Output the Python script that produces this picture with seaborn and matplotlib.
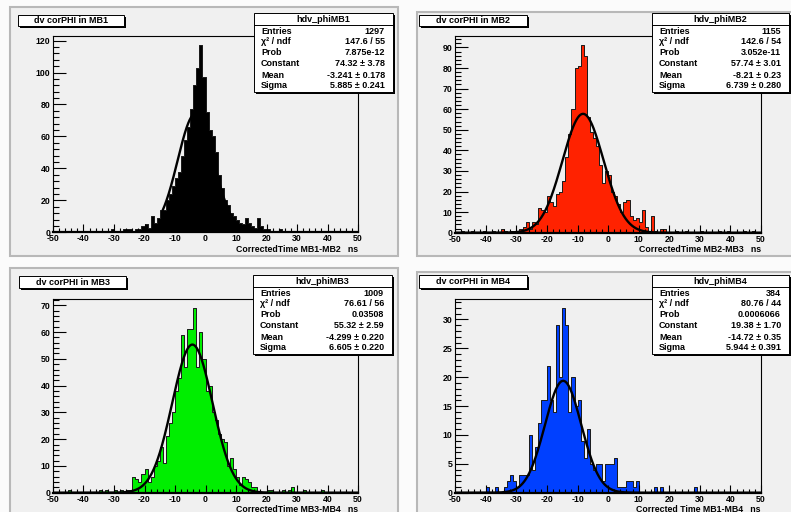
import numpy as np
import matplotlib
matplotlib.use("Agg")
import matplotlib.pyplot as plt
from matplotlib.patches import Rectangle
from matplotlib.lines import Line2D
import seaborn as sns

# ---------------- data (bins of 1 ns from -50 to 50) ----------------
bin_edges = list(range(-50, 51))

counts_mb1 = [
    0, 0, 1, 0, 0, 1, 0, 1, 0, 0,        # -50 .. -41
    1, 0, 0, 1, 0, 0, 1, 1, 0, 2,        # -40 .. -31
    0, 1, 0, 2, 2, 2, 1, 2, 2, 4,        # -30 .. -21
    5, 3, 10, 6, 9, 14, 14, 20, 24, 29,  # -20 .. -11
    34, 38, 48, 58, 66, 77, 92, 103, 117, 97,  # -10 .. -1
    75, 64, 60, 50, 36, 28, 20, 17, 12, 10,    # 0 .. 9
    8, 6, 5, 9, 6, 4, 3, 9, 4, 2,        # 10 .. 19
    2, 1, 1, 0, 2, 1, 0, 1, 0, 1,        # 20 .. 29
    0, 1, 0, 0, 1, 0, 0, 1, 0, 0,        # 30 .. 39
    1, 0, 0, 0, 1, 0, 0, 1, 0, 0,        # 40 .. 49
]
counts_mb2 = [
    0, 0, 1, 0, 0, 1, 0, 0, 0, 1,        # -50 .. -41
    0, 0, 1, 0, 0, 2, 1, 0, 1, 0,        # -40 .. -31
    1, 2, 3, 5, 2, 5, 4, 12, 11, 10,     # -30 .. -21
    18, 15, 13, 19, 20, 25, 37, 48, 60, 80,    # -20 .. -11
    81, 91, 86, 56, 49, 46, 42, 33, 24, 30,    # -10 .. -1
    28, 20, 18, 14, 10, 15, 16, 8, 6, 7,       # 0 .. 9
    5, 11, 3, 0, 8, 1, 0, 2, 2, 0,       # 10 .. 19
    0, 0, 1, 0, 0, 1, 0, 0, 0, 0,        # 20 .. 29
    1, 0, 0, 0, 0, 0, 1, 0, 0, 1,        # 30 .. 39
    0, 0, 0, 0, 1, 0, 0, 1, 0, 0,        # 40 .. 49
]
counts_mb3 = [
    0, 0, 0, 0, 0, 1, 0, 0, 0, 0,        # -50 .. -41
    0, 0, 0, 0, 0, 1, 0, 1, 0, 0,        # -40 .. -31
    1, 0, 1, 0, 1, 1, 6, 5, 4, 7,        # -30 .. -21
    9, 4, 6, 10, 12, 17, 11, 21, 26, 30,       # -20 .. -11
    38, 43, 59, 47, 61, 61, 69, 47, 60, 50,    # -10 .. -1
    38, 40, 30, 27, 22, 20, 19, 10, 13, 9,     # 0 .. 9
    6, 3, 6, 5, 4, 2, 2, 0, 0, 0,        # 10 .. 19
    1, 1, 0, 0, 0, 1, 0, 1, 2, 0,        # 20 .. 29
    0, 0, 1, 0, 0, 0, 0, 0, 1, 0,        # 30 .. 39
    0, 0, 0, 0, 0, 0, 0, 0, 0, 0,        # 40 .. 49
]
counts_mb4 = [
    0, 0, 0, 0, 0, 0, 0, 0, 0, 0,        # -50 .. -41
    1, 0, 0, 1, 0, 0, 1, 2, 3, 2,        # -40 .. -31
    1, 3, 3, 3, 10, 4, 8, 12, 16, 16,    # -30 .. -21
    22, 16, 14, 29, 20, 32, 29, 14, 20, 15,    # -20 .. -11
    16, 9, 6, 11, 5, 4, 5, 5, 2, 5,      # -10 .. -1
    5, 5, 6, 1, 1, 1, 2, 2, 1, 2,        # 0 .. 9
    0, 0, 0, 0, 0, 1, 0, 1, 0, 0,        # 10 .. 19
    0, 0, 0, 0, 0, 0, 0, 0, 1, 0,        # 20 .. 29
    0, 0, 0, 0, 0, 0, 0, 0, 0, 0,        # 30 .. 39
    0, 0, 0, 0, 0, 0, 0, 0, 0, 0,        # 40 .. 49
]

hist_names = ["hdv_phiMB1", "hdv_phiMB2", "hdv_phiMB3", "hdv_phiMB4"]
pad_titles = ["dv corPHI in MB1", "dv corPHI in MB2", "dv corPHI in MB3", "dv corPHI in MB4"]
x_titles = ["CorrectedTime MB1-MB2   ns", "CorrectedTime MB2-MB3   ns",
            "CorrectedTime MB3-MB4   ns", "Corrected Time MB1-MB4   ns"]
entries = ["1297", "1155", "1009", "384"]
chi2_ndf = ["147.6 / 55", "142.6 / 54", "76.61 / 56", "80.76 / 44"]
prob = ["7.875e-12", "3.052e-11", "0.03508", "0.0006066"]
const_txt = ["74.32 \u00b1 3.78", "57.74 \u00b1 3.01", "55.32 \u00b1 2.59", "19.38 \u00b1 1.70"]
mean_txt = ["-3.241 \u00b1 0.178", "-8.21 \u00b1 0.23", "-4.299 \u00b1 0.220", "-14.72 \u00b1 0.35"]
sigma_txt = ["5.885 \u00b1 0.241", "6.739 \u00b1 0.280", "6.605 \u00b1 0.220", "5.944 \u00b1 0.391"]
fit_const = [74.32, 57.74, 55.32, 19.38]
fit_mean = [-3.241, -8.21, -4.299, -14.72]
fit_sigma = [5.885, 6.739, 6.605, 5.944]
fit_range = [(-14.0, 8.0), (-50.0, 50.0), (-50.0, 50.0), (-50.0, 50.0)]
fill_colors = ["#000000", "#ff2200", "#00ee00", "#0040ff"]
y_major = [20, 10, 10, 5]
y_minor = [4, 2, 2, 1]

all_counts = [counts_mb1, counts_mb2, counts_mb3, counts_mb4]

# ---------------- layout ----------------
W, H = 791, 512
plt.rcParams["font.family"] = ["Liberation Sans", "DejaVu Sans"]
plt.rcParams["font.weight"] = "bold"
plt.rcParams["axes.unicode_minus"] = False
fig = plt.figure(figsize=(W / 100, H / 100), dpi=100, facecolor="#fbfbfb")


def fx(x):
    return x / W


def fy(y):
    return 1 - y / H


def rect(x0, y0, x1, y1, **kw):
    r = Rectangle((fx(x0), fy(y1)), (x1 - x0) / W, (y1 - y0) / H,
                  transform=fig.transFigure, **kw)
    fig.patches.append(r)
    return r


pads = [(10, 7, 398, 256), (417, 12, 795, 256), (10, 268, 398, 516), (417, 272, 795, 516)]
frames = [(53, 36, 358, 232.3), (455.3, 36, 761, 232.7),
          (53, 298.7, 358, 492.7), (455.3, 298.7, 761, 492.7)]
title_boxes = [(18, 15, 124, 26), (419, 15, 527, 26), (19, 276, 126, 288), (419, 275, 527, 288)]
stat_boxes = [(254, 13, 393), (652, 13, 789), (253, 275, 392), (652, 275, 789)]
xlabel_y = [249, 249, 509, 509]

for p in pads:
    rect(*p, facecolor="#f0f0f0", edgecolor="#b8b8b8", lw=1.5, zorder=-5)

centers = [e + 0.5 for e in bin_edges[:-1]]

for i in range(4):
    x0, y0, x1, y1 = frames[i]
    ax = fig.add_axes([fx(x0), fy(y1), (x1 - x0) / W, (y1 - y0) / H])
    ax.set_zorder(1)
    ax.set_facecolor("#f0f0f0")
    counts = all_counts[i]
    sns.histplot(x=centers, weights=counts, bins=bin_edges, element="step",
                 fill=True, color=fill_colors[i], alpha=1.0,
                 edgecolor="#1a1a1a", linewidth=0.7, ax=ax)
    lo, hi = fit_range[i]
    xs = np.linspace(lo, hi, 600)
    ys = fit_const[i] * np.exp(-0.5 * ((xs - fit_mean[i]) / fit_sigma[i]) ** 2)
    sns.lineplot(x=xs, y=ys, color="black", linewidth=1.7, ax=ax)
    ax.set_xlim(-50, 50)
    ax.set_ylim(0, 1.05 * max(counts))
    ax.set_xlabel("")
    ax.set_ylabel("")
    ax.set_xticks(range(-50, 51, 10))
    ax.set_xticks(range(-50, 51, 2), minor=True)
    yt = np.arange(0, 1.05 * max(counts) + 0.01, y_major[i])
    ax.set_yticks(yt)
    ax.set_yticks(np.arange(0, 1.05 * max(counts), y_minor[i]), minor=True)
    ax.set_yticklabels([str(int(v)) for v in yt])
    ax.tick_params(axis="x", which="major", direction="in", length=6, width=0.8,
                   labelsize=6.3, pad=1.5)
    ax.tick_params(axis="x", which="minor", direction="in", length=3, width=0.8)
    ax.tick_params(axis="y", which="major", direction="in", length=9, width=0.8,
                   labelsize=6.3, pad=2)
    ax.tick_params(axis="y", which="minor", direction="in", length=4.5, width=0.8)
    for lab in ax.get_xticklabels() + ax.get_yticklabels():
        lab.set_fontweight("bold")
    for s in ax.spines.values():
        s.set_linewidth(0.8)
        s.set_color("black")
    ax.spines["bottom"].set_linewidth(1.6)

    # x-axis title
    fig.text(fx(x1), fy(xlabel_y[i]), x_titles[i], ha="right", va="center",
             fontsize=6.3, fontweight="bold")

    # pad title box with shadow
    tx0, ty0, tx1, ty1 = title_boxes[i]
    rect(tx0 + 1.5, ty0 + 1.5, tx1 + 1.5, ty1 + 1.5, facecolor="black", edgecolor="none", zorder=5)
    rect(tx0, ty0, tx1, ty1, facecolor="white", edgecolor="black", lw=0.7, zorder=6)
    fig.text(fx((tx0 + tx1) / 2), fy((ty0 + ty1) / 2 + 0.3), pad_titles[i],
             ha="center", va="center", fontsize=6.5, fontweight="bold", zorder=7)

    # statistics box with shadow
    sx0, sy0, sx1 = stat_boxes[i]
    sy1 = sy0 + 79
    rect(sx0 + 2, sy0 + 2, sx1 + 2, sy1 + 2, facecolor="black", edgecolor="none", zorder=5)
    rect(sx0, sy0, sx1, sy1, facecolor="white", edgecolor="black", lw=0.7, zorder=6)
    fig.add_artist(Line2D([fx(sx0), fx(sx1)], [fy(sy0 + 11.5), fy(sy0 + 11.5)],
                          transform=fig.transFigure, color="black", lw=0.7, zorder=7))
    fig.text(fx((sx0 + sx1) / 2), fy(sy0 + 6), hist_names[i], ha="center", va="center",
             fontsize=6.5, fontweight="bold", zorder=8)
    labels = ["Entries", "\u03c7\u00b2 / ndf", "Prob", "Constant", "Mean", "Sigma"]
    values = [entries[i], chi2_ndf[i], prob[i], const_txt[i], mean_txt[i], sigma_txt[i]]
    row_y = [18, 29, 39.5, 50.5, 62, 73]
    for lab, val, ry in zip(labels, values, row_y):
        fig.text(fx(sx0 + 7), fy(sy0 + ry), lab, ha="left", va="center",
                 fontsize=6.5, fontweight="bold", zorder=8)
        fig.text(fx(sx1 - 8), fy(sy0 + ry), val, ha="right", va="center",
                 fontsize=6.5, fontweight="bold", zorder=8)

fig.savefig("out.png", dpi=100, facecolor=fig.get_facecolor())
